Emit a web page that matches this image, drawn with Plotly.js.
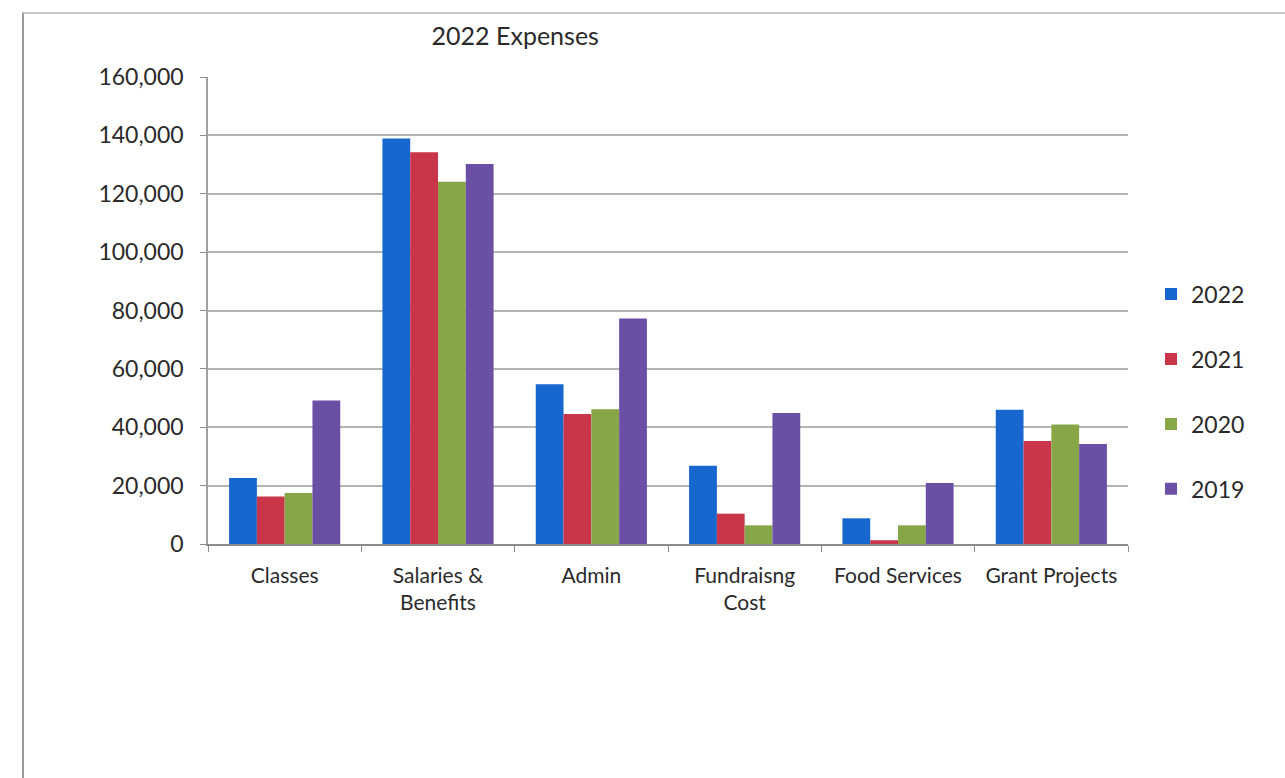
<!DOCTYPE html>
<html>
<head>
<meta charset="utf-8">
<script src="https://cdn.plot.ly/plotly-3.0.1.min.js"></script>
<style>
  html, body { margin: 0; padding: 0; background: #fff; }
  #chart { width: 1285px; height: 778px; }
  #frame { position: absolute; left: 22px; top: 12px; width: 1300px; height: 800px;
           border-left: 2px solid #9a9a9a; border-top: 2px solid #c8c8c8; pointer-events: none; }
</style>
</head>
<body>
<div id="chart"></div>
<div id="frame"></div>
<script>
const categories = ["Classes", "Salaries &<br>Benefits", "Admin", "Fundraisng<br>Cost", "Food Services", "Grant Projects"];
const seriesNames = ["2022", "2021", "2020", "2019"];
const values2022 = [22600, 138900, 54700, 26800, 8800, 46000];
const values2021 = [16300, 134200, 44500, 10400, 1300, 35300];
const values2020 = [17500, 124100, 46200, 6400, 6400, 40900];
const values2019 = [49200, 130200, 77300, 44900, 20900, 34300];
const colors = ["#1767cf", "#c9364a", "#86a648", "#6a4fa5"];

const allValues = [values2022, values2021, values2020, values2019];
const traces = allValues.map((v, i) => ({
  type: "bar",
  name: seriesNames[i],
  x: categories,
  y: v,
  marker: { color: colors[i] },
  legendgroup: "g" + i,
  hoverinfo: "x+y+name"
}));

const layout = {
  width: 1285,
  height: 778,
  margin: { l: 208, r: 157, t: 77, b: 234 },
  paper_bgcolor: "#ffffff",
  plot_bgcolor: "#ffffff",
  font: { family: "Lato, 'Open Sans', sans-serif", color: "#2a2a2a", size: 21 },
  title: {
    text: "2022 Expenses",
    font: { family: "Lato, sans-serif", size: 25, color: "#2a2a2a" },
    x: 0.334, xref: "paper", xanchor: "center",
    y: 0.954, yref: "container", yanchor: "middle"
  },
  barmode: "group",
  bargap: 0.275,
  bargroupgap: 0,
  xaxis: {
    type: "category",
    showgrid: false,
    showline: true,
    linecolor: "#8c8c8c",
    linewidth: 1.5,
    ticks: "outside",
    tickson: "boundaries",
    ticklen: 6,
    tickcolor: "#8c8c8c",
    tickfont: { size: 21, color: "#2a2a2a" },
    ticklabelstandoff: 12
  },
  yaxis: {
    range: [0, 160000],
    dtick: 20000,
    tickformat: ",d",
    showgrid: true,
    gridcolor: "#b4b4b4",
    gridwidth: 1.5,
    zeroline: false,
    showline: true,
    linecolor: "#a0a0a0",
    linewidth: 1.5,
    ticks: "outside",
    ticklen: 6,
    tickcolor: "#8c8c8c",
    tickfont: { size: 23, color: "#2a2a2a" },
    ticklabelstandoff: 12
  },
  legend: {
    x: 1.025, xanchor: "left",
    y: 0.581, yanchor: "top",
    font: { size: 23, color: "#2a2a2a" },
    tracegroupgap: 32,
    bgcolor: "rgba(0,0,0,0)",
    itemwidth: 30
  },
  showlegend: true
};

Plotly.newPlot("chart", traces, layout, { displayModeBar: false, staticPlot: false });
</script>
</body>
</html>
